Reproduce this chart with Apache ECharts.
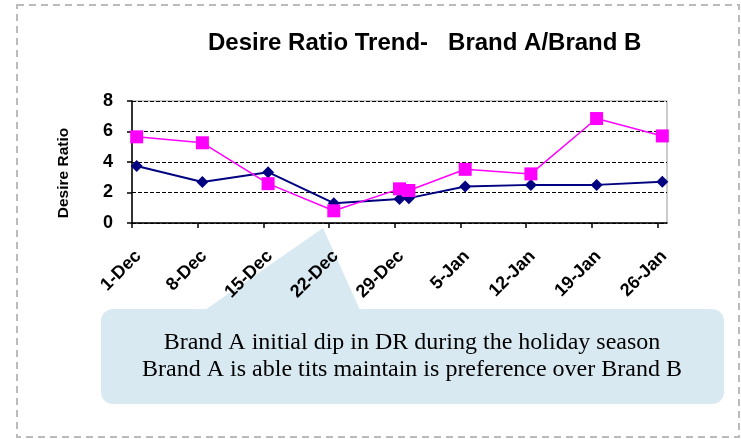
<!DOCTYPE html>
<html>
<head>
<meta charset="utf-8">
<script src="https://cdn.jsdelivr.net/npm/echarts@6/dist/echarts.min.js"></script>
<style>
  html, body { margin: 0; padding: 0; background: #fff; }
  #main { width: 741px; height: 439px; }
</style>
</head>
<body>
<div id="main"></div>
<script>
// days counted from 1-Dec (date axis, each point sits in the middle of its day)
const tickDays = [0, 7, 14, 21, 28, 35, 42, 49, 56];
const tickLabels = ['1-Dec', '8-Dec', '15-Dec', '22-Dec', '29-Dec', '5-Jan', '12-Jan', '19-Jan', '26-Jan'];
const pointDays = [0, 7, 14, 21, 28, 29, 35, 42, 49, 56];
const brandA = [5.65, 5.26, 2.58, 0.8, 2.24, 2.13, 3.52, 3.22, 6.85, 5.71];
const brandB = [3.74, 2.69, 3.33, 1.3, 1.58, 1.63, 2.39, 2.5, 2.5, 2.71];

const font = '"Liberation Sans", Arial, sans-serif';

function pairs(vals) {
    return pointDays.map((d, i) => [d + 0.5, vals[i]]);
}

const myChart = echarts.init(document.getElementById('main'));

const option = {
    animation: false,
    title: {
        text: 'Desire Ratio Trend-   Brand A/Brand B',
        left: 203,
        top: 26,
        textStyle: { fontFamily: font, fontSize: 24, fontWeight: 'bold', color: '#000' }
    },
    grid: {
        left: 132,
        right: 74,
        top: 101,
        bottom: 216,
        show: true,
        borderColor: '#999',
        borderWidth: 1
    },
    xAxis: {
        type: 'value',
        min: 0,
        max: 57,
        interval: 7,
        axisLine: { lineStyle: { color: '#000', width: 1.5 } },
        axisTick: { show: true, length: 5, customValues: tickDays, lineStyle: { color: '#000', width: 1.5 } },
        axisLabel: {
            customValues: tickDays,
            rotate: 45,
            margin: 24,
            verticalAlign: 'top',
            fontFamily: font,
            fontSize: 18,
            fontWeight: 'bold',
            color: '#000',
            formatter: v => tickLabels[tickDays.indexOf(v)] || ''
        },
        splitLine: { show: false }
    },
    yAxis: {
        type: 'value',
        min: 0,
        max: 8,
        interval: 2,
        name: 'Desire Ratio',
        nameLocation: 'middle',
        nameRotate: 90,
        nameGap: 60,
        nameTextStyle: { fontFamily: font, fontSize: 15.5, fontWeight: 'bold', color: '#000', padding: [0, 22, 0, 0] },
        axisLine: { show: true, lineStyle: { color: '#000', width: 1.5 } },
        axisTick: { show: true, length: 5, lineStyle: { color: '#000', width: 1.5 } },
        axisLabel: { margin: 19, fontFamily: font, fontSize: 18, fontWeight: 'bold', color: '#000' },
        splitLine: { show: true, lineStyle: { color: '#000', type: [4, 2], width: 1 } }
    },
    series: [
        {
            name: 'Brand B',
            type: 'line',
            data: pairs(brandB),
            symbol: 'diamond',
            symbolSize: 12,
            itemStyle: { color: '#000080' },
            lineStyle: { color: '#000080', width: 2 }
        },
        {
            name: 'Brand A',
            type: 'line',
            data: pairs(brandA),
            symbol: 'rect',
            symbolSize: 13,
            itemStyle: { color: '#ff00ff' },
            lineStyle: { color: '#ff00ff', width: 1.5 }
        }
    ],
    graphic: [
        {
            type: 'rect',
            z: -2,
            shape: { x: 17, y: 5, width: 722, height: 432 },
            style: { fill: 'none', stroke: '#bbb', lineWidth: 2, lineDash: [7, 5] }
        },
        {
            type: 'polygon',
            z: -1,
            shape: { points: [[205, 310], [323, 228], [360, 310]] },
            style: { fill: '#d9e9f1' }
        },
        {
            type: 'rect',
            z: -1,
            shape: { x: 101, y: 309, width: 623, height: 95, r: 12 },
            style: { fill: '#d9e9f1' }
        },
        {
            type: 'text',
            z: 10,
            x: 412,
            y: 356,
            style: {
                text: 'Brand A initial dip in DR during the holiday season\nBrand A is able tits maintain is preference over Brand B',
                font: '24px "Liberation Serif", serif',
                fill: '#000',
                align: 'center',
                verticalAlign: 'middle',
                lineHeight: 27
            }
        }
    ]
};

myChart.setOption(option);
</script>
</body>
</html>
